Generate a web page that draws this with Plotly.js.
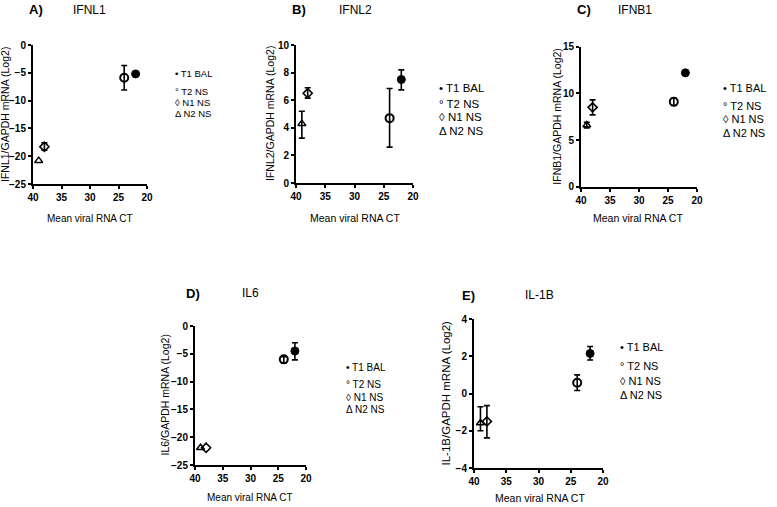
<!DOCTYPE html>
<html><head><meta charset="utf-8">
<script src="https://cdn.plot.ly/plotly-3.0.1.min.js"></script>
<style>html,body{margin:0;padding:0;background:#fff;}#chart{width:777px;height:507px;}</style>
</head><body><div id="chart"></div>
<script>
// ---- data ----
const groups = ['T1 BAL', 'T2 NS', 'N1 NS', 'N2 NS'];
const legendSymbols = ['•', '°', '◊', 'Δ'];
const meanCT = [22, 24, 38, 39];
const panelLetters = ['A)', 'B)', 'C)', 'D)', 'E)'];
const genes = ['IFNL1', 'IFNL2', 'IFNB1', 'IL6', 'IL-1B'];
const yTitles = ['IFNL1/GAPDH mRNA (Log2)', 'IFNL2/GAPDH mRNA (Log2)', 'IFNB1/GAPDH mRNA (Log2)', 'IL6/GAPDH mRNA (Log2)', 'IL-1B/GAPDH mRNA (Log2)'];
const xTitle = 'Mean viral RNA CT';

const ifnl1Mean = [-5.2, -5.9, -18.3, -20.8];
const ifnl1ErrUp = [0, 2.2, 0.7, 0];
const ifnl1ErrDown = [0, 2.2, 0.6, 0];

const ifnl2Mean = [7.5, 4.7, 6.5, 4.3];
const ifnl2ErrUp = [0.7, 2.15, 0.4, 0.9];
const ifnl2ErrDown = [0.75, 2.1, 0.35, 1.05];

const ifnb1Mean = [12.2, 9.1, 8.5, 6.6];
const ifnb1ErrUp = [0, 0.4, 0.8, 0.3];
const ifnb1ErrDown = [0, 0.4, 0.8, 0.3];

const il6Mean = [-4.5, -6.0, -21.9, -21.9];
const il6ErrUp = [1.5, 0.5, 0, 0];
const il6ErrDown = [1.6, 0.6, 0, 0];

const il1bMean = [2.15, 0.58, -1.5, -1.58];
const il1bErrUp = [0.37, 0.42, 0.85, 0.87];
const il1bErrDown = [0.35, 0.42, 0.88, 0.42];

const yRanges = [[-25, 0], [0, 10], [0, 15], [-25, 0], [-4, 4]];
const yTicks = [5, 2, 5, 5, 2];
const xRange = [40, 20];

// ---- layout geometry (pixels) ----
const W = 777, H = 507;
const boxes = [
  {x0: 33, x1: 147, y0: 45, y1: 184, letter: [36, 10], gene: [89, 10], ytl: [5.5, 10.5], xtl: [90, 218, 10],
   leg: {x: 173, rows: [74, 91, 102, 113], fs: 9.5}},
  {x0: 296, x1: 413, y0: 45, y1: 183, letter: [299, 10], gene: [355, 10], ytl: [270, 10.5], xtl: [355, 218, 10.5],
   leg: {x: 437, rows: [88, 104, 117, 131], fs: 11.5}},
  {x0: 581, x1: 697, y0: 46.7, y1: 186.7, letter: [584, 10], gene: [635, 10], ytl: [557, 10.5], xtl: [638, 218, 10.5],
   leg: {x: 721, rows: [88, 106, 119, 133], fs: 11}},
  {x0: 195, x1: 306, y0: 326, y1: 465, letter: [193, 293], gene: [250, 293], ytl: [164, 10.5], xtl: [250, 497, 10],
   leg: {x: 344, rows: [367, 384, 397, 409], fs: 10}},
  {x0: 474, x1: 603, y0: 319, y1: 468, letter: [468, 295], gene: [539, 295], ytl: [445, 11.5], xtl: [540, 498, 10.5],
   leg: {x: 618, rows: [347, 366, 381, 395], fs: 11}}
];

const series = [
  [ifnl1Mean, ifnl1ErrUp, ifnl1ErrDown],
  [ifnl2Mean, ifnl2ErrUp, ifnl2ErrDown],
  [ifnb1Mean, ifnb1ErrUp, ifnb1ErrDown],
  [il6Mean, il6ErrUp, il6ErrDown],
  [il1bMean, il1bErrUp, il1bErrDown]
];

const markerStyles = [
  {symbol: 'circle', size: 8, color: '#000', line: {color: '#000', width: 1}},
  {symbol: 'circle-open', size: 8, color: '#000', line: {color: '#000', width: 2}},
  {symbol: 'diamond-open', size: 7, color: '#000', line: {color: '#000', width: 1.6}},
  {symbol: 'triangle-up-open', size: 7, color: '#000', line: {color: '#000', width: 1.5}}
];

const FONT = 'Liberation Sans, Arial, sans-serif';
const traces = [];
const layout = {
  width: W, height: H,
  margin: {l: 0, r: 0, t: 0, b: 0},
  paper_bgcolor: '#fff', plot_bgcolor: '#fff',
  showlegend: false,
  font: {family: FONT, color: '#000'},
  annotations: []
};

function ann(text, x, y, font, extra) {
  return Object.assign({text: text, xref: 'paper', yref: 'paper', x: x / W, y: 1 - y / H,
    xanchor: 'center', yanchor: 'middle', showarrow: false, font: font}, extra || {});
}

boxes.forEach((b, p) => {
  const sfx = p === 0 ? '' : String(p + 1);
  const [mean, up, down] = series[p];
  groups.forEach((g, i) => {
    traces.push({
      type: 'scatter', mode: 'markers', name: g,
      x: [meanCT[i]], y: [mean[i]],
      xaxis: 'x' + sfx, yaxis: 'y' + sfx,
      marker: markerStyles[i],
      error_y: {type: 'data', symmetric: false, array: [up[i]], arrayminus: [down[i]],
                visible: up[i] > 0 || down[i] > 0, color: '#000', thickness: 1.6, width: 3}
    });
  });
  const axLine = {showline: true, linecolor: '#000', linewidth: 2, ticks: 'outside', ticklen: 3,
                  tickwidth: 2, tickcolor: '#000', showgrid: false, zeroline: false, automargin: false,
                  tickprefix: '<b>', ticksuffix: '</b>',
                  tickfont: {family: FONT, size: 10, weight: 'bold', color: '#000'}};
  layout['xaxis' + sfx] = Object.assign({}, axLine, {
    domain: [b.x0 / W, b.x1 / W], range: xRange, dtick: 5, tick0: 20, anchor: 'y' + sfx
  });
  layout['yaxis' + sfx] = Object.assign({}, axLine, {
    domain: [1 - b.y1 / H, 1 - b.y0 / H], range: yRanges[p], dtick: yTicks[p], anchor: 'x' + sfx
  });
  layout.annotations.push(ann(panelLetters[p], b.letter[0], b.letter[1], {family: FONT, size: 13, weight: 'bold', color: '#000'}));
  layout.annotations.push(ann(genes[p], b.gene[0], b.gene[1], {family: FONT, size: 12, color: '#000'}));
  layout.annotations.push(ann(yTitles[p], b.ytl[0], (b.y0 + b.y1) / 2, {family: FONT, size: b.ytl[1], color: '#000'}, {textangle: -90}));
  layout.annotations.push(ann(xTitle, b.xtl[0], b.xtl[1], {family: FONT, size: b.xtl[2], color: '#000'}));
  groups.forEach((g, i) => {
    layout.annotations.push(ann(legendSymbols[i] + ' ' + g, b.leg.x, b.leg.rows[i],
      {family: FONT, size: b.leg.fs, color: '#000'}, {xanchor: 'left'}));
  });
});

Plotly.newPlot('chart', traces, layout, {staticPlot: true, displayModeBar: false});
</script></body></html>
